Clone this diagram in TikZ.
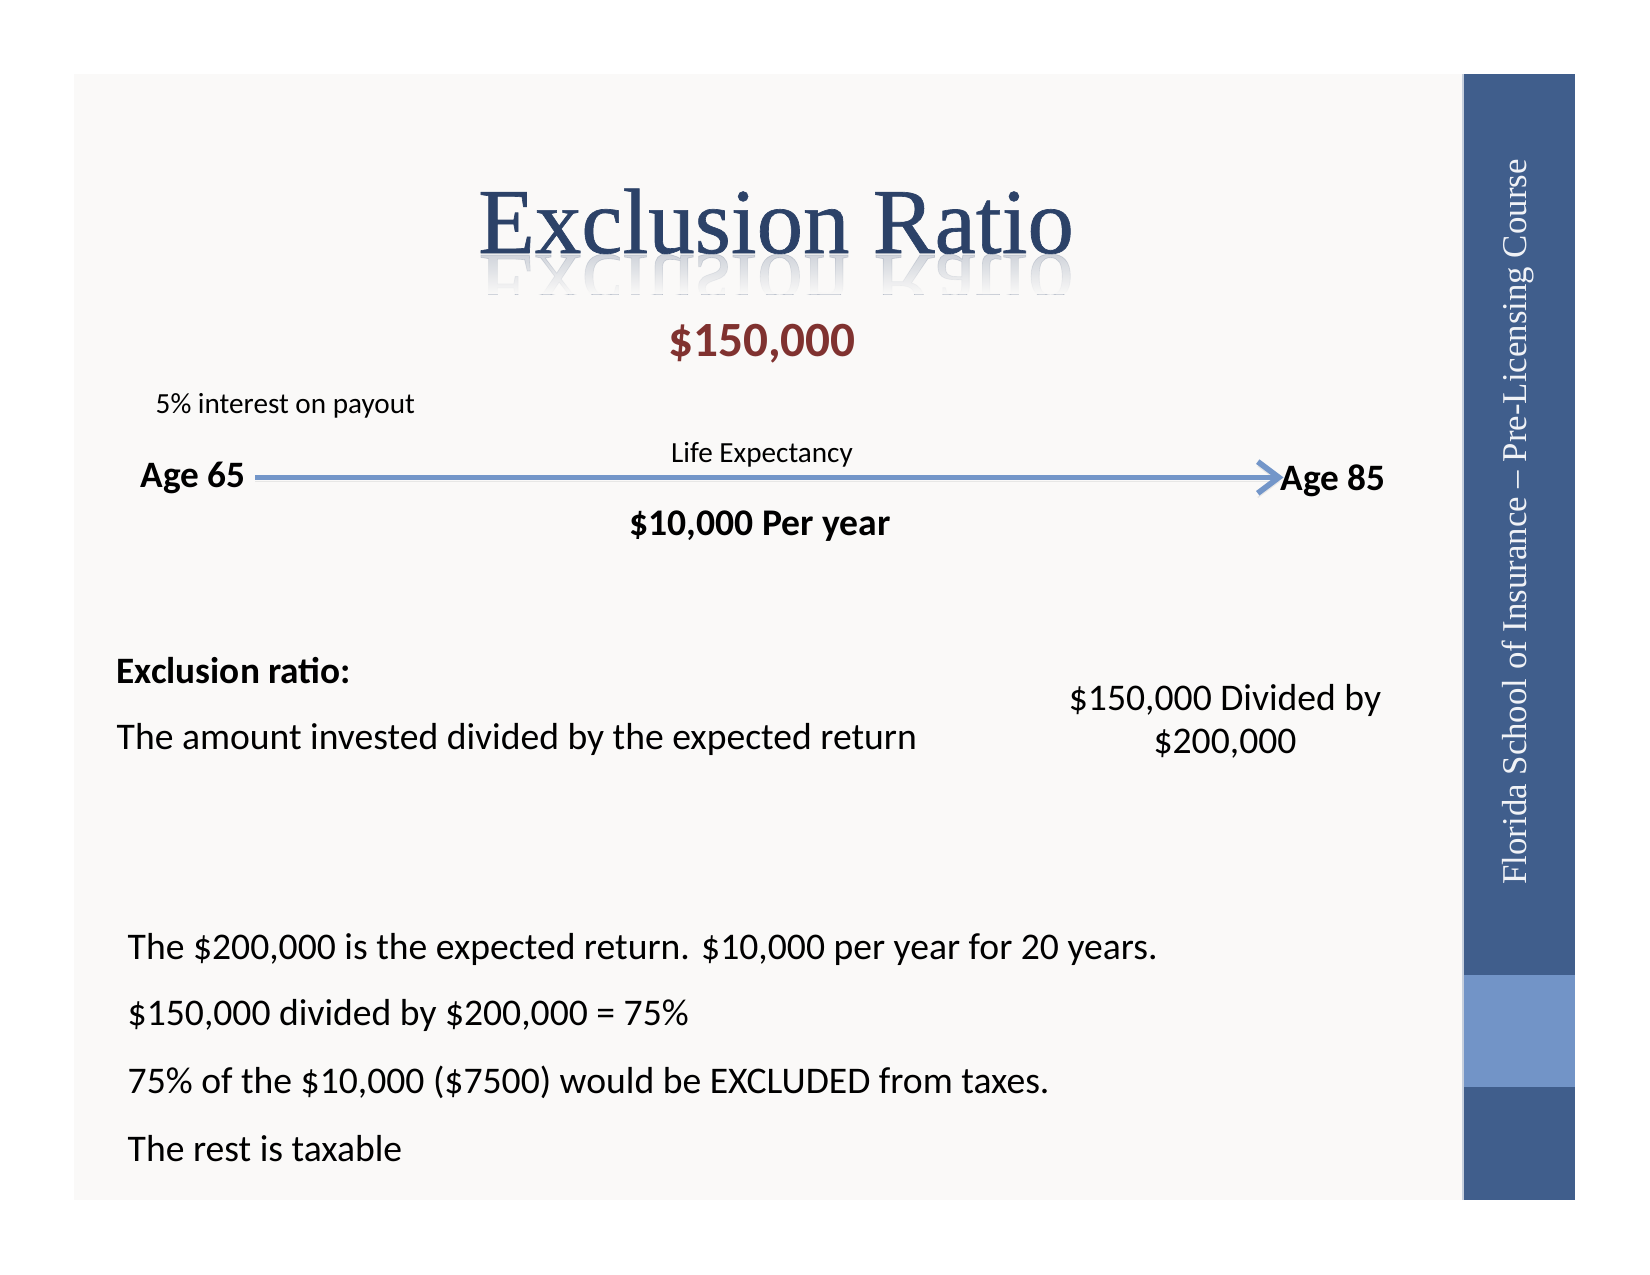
\documentclass[tikz,border=0pt]{standalone}
\usepackage{fontspec}
\setmainfont{Carlito}
\newfontfamily\slideserif{Liberation Serif}
\newfontfamily\slideheading[FakeBold=0.7]{Liberation Serif}
\usetikzlibrary{
    arrows.meta,
    fadings,
    positioning
}
\definecolor{sidedark}{RGB}{64,94,140}
\definecolor{sidelight}{RGB}{114,148,199}
\definecolor{slidebg}{RGB}{250,249,248}
\definecolor{titleblue}{RGB}{44,66,104}
\definecolor{pricered}{RGB}{128,50,48}
\definecolor{arrowblue}{RGB}{115,150,201}

\begin{document}
\begin{tikzpicture}[x=0.01cm, y=-0.01cm,
    txt/.style={inner sep=0pt, font=\fontsize{10.7}{12.8}\selectfont},
    boldtxt/.style={inner sep=0pt, font=\fontsize{10.6}{12.8}\selectfont\bfseries},
    smalltxt/.style={inner sep=0pt, font=\fontsize{8.3}{10}\selectfont},
    titletxt/.style={inner sep=0pt, text=titleblue, font=\fontsize{26.4}{32}\selectfont\slideheading},
    timeline/.style={line width=1.6pt, arrowblue, -{Straight Barb[length=6pt,width=9pt]},
        preaction={draw=black!30, opacity=.25, transform canvas={yshift=-1.2pt}}}]
    \useasboundingbox (0,0) rectangle (1650,1275);
    \fill[white] (0,0) rectangle (1650,1275);
    % slide and side bar
    \fill[slidebg] (74,74) rectangle (1463,1200);
    \fill[sidedark] (1463,74) rectangle (1575,1200);
    \fill[sidelight] (1463,975) rectangle (1575,1087);
    \draw[white!70!sidedark, line width=.5pt] (1463,74) -- (1463,1200);
    \node[rotate=90, inner sep=0pt, text=white!92!sidedark,
        font=\fontsize{9.9}{11}\selectfont\slideserif] (school) at (1518,522)
        {Florida School of Insurance – Pre-Licensing Course};

    % title with its reflection
    \node[titletxt, anchor=base] (title) at (776,253) {Exclusion Ratio};
    \begin{scope}
        \clip (400,254) rectangle (1120,294);
        \begin{scope}[shift={(776,255)}, yscale=-1]
            \node[titletxt, transform shape, anchor=base, text opacity=.2] (mirror) at (0,0) {Exclusion Ratio};
        \end{scope}
        \fill[slidebg, path fading=north] (400,254) rectangle (1120,294);
    \end{scope}

    % time line
    \node[inner sep=0pt, text=pricered, font=\fontsize{14}{17}\selectfont\bfseries,
        anchor=base] (price) at (762,356) {\$150,000};
    \node[smalltxt, anchor=base west] (interest) at (155,413) {5\% interest on payout};
    \node[boldtxt, anchor=base west] (age65) at (140,487) {Age 65};
    \node[boldtxt, anchor=base west] (age85) at (1280,490) {Age 85};
    \node[smalltxt, anchor=base] (life) at (762,462) {Life Expectancy};
    \node[inner sep=0pt, font=\fontsize{10.7}{13}\selectfont\bfseries,
        anchor=base] (peryear) at (760,535) {\$10,000 Per year};
    \draw[timeline, shorten <=2.6pt, shorten >=-1pt] (age65.east) -- (age65.east -| age85.west);

    % definition
    \node[boldtxt, anchor=base west] (rathead) at (116,683) {Exclusion ratio:};
    \node[txt, anchor=base west] (ratdef) at (116,749) {The amount invested divided by the expected return};
    \node[txt, anchor=base] (divtop) at (1225,710) {\$150,000 Divided by};
    \node[txt, anchor=base] (divbot) at (1225,753) {\$200,000};

    % worked example
    \node[txt, anchor=base west] (line1) at (127,959) {The \$200,000 is the expected return. \$10,000 per year for 20 years.};
    \node[txt, anchor=base west] (line2) at (127,1025) {\$150,000 divided by \$200,000 = 75\%};
    \node[txt, anchor=base west] (line3) at (127,1093) {75\% of the \$10,000 (\$7500) would be EXCLUDED from taxes.};
    \node[txt, anchor=base west] (line4) at (127,1161) {The rest is taxable};
\end{tikzpicture}
\end{document}
